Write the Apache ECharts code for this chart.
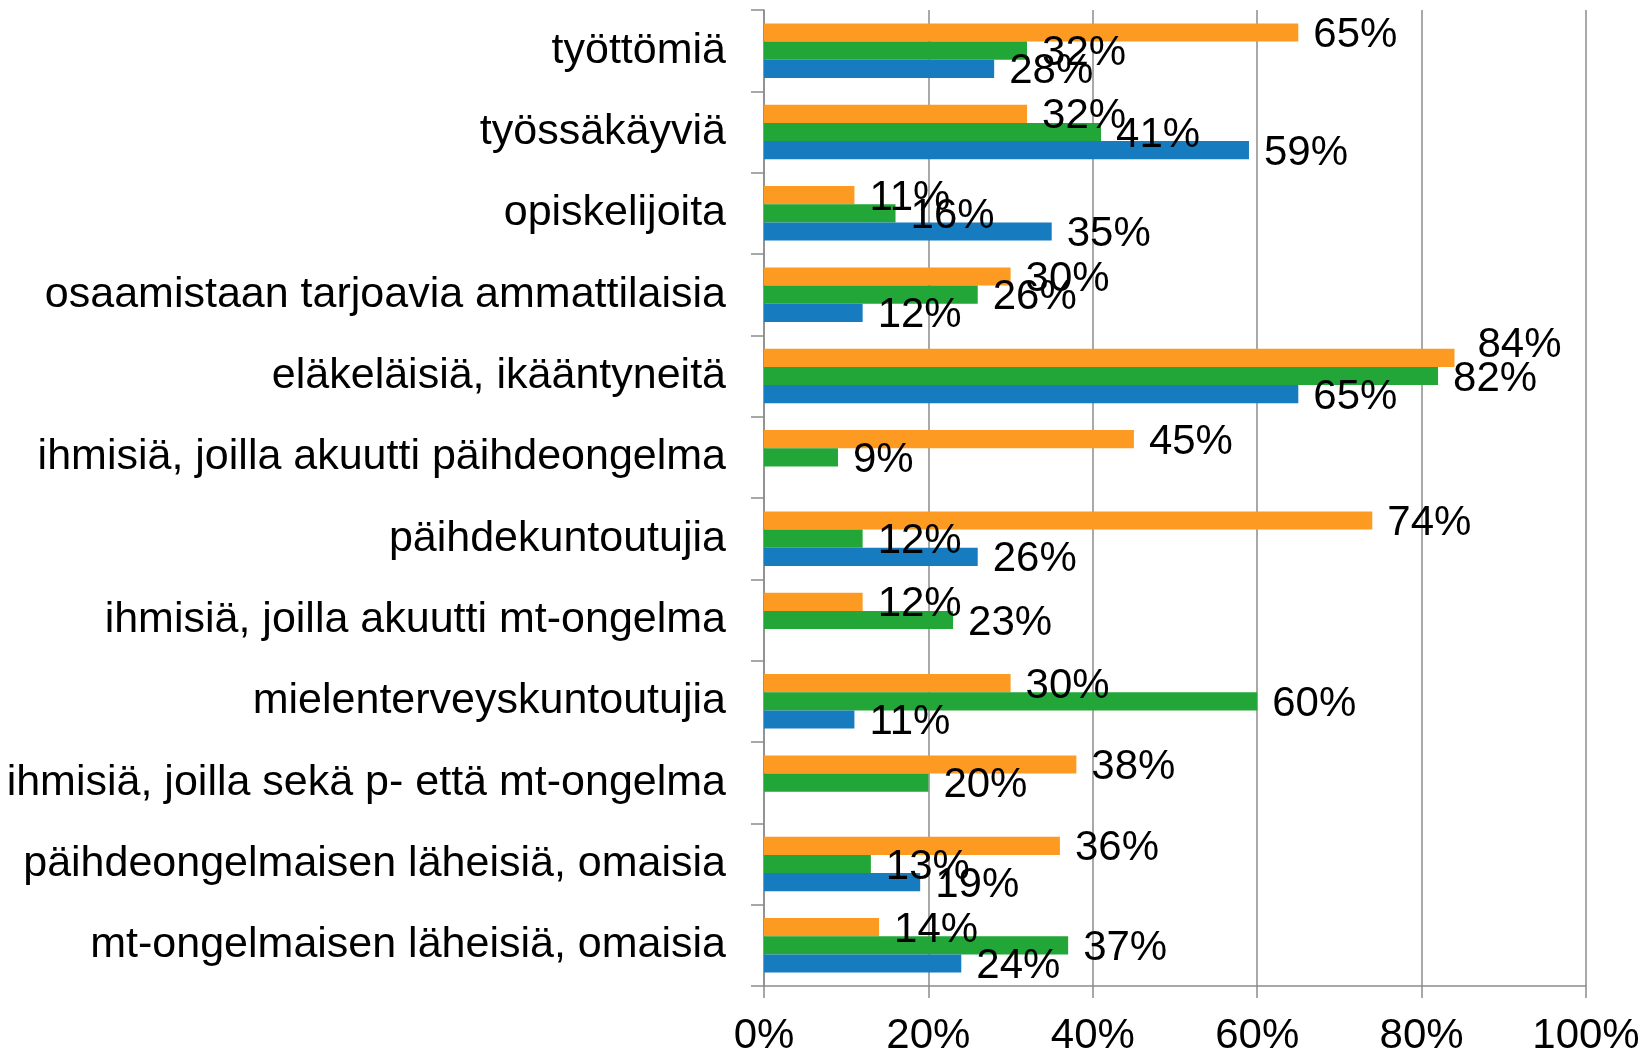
<!DOCTYPE html>
<html>
<head>
<meta charset="utf-8">
<script src="https://cdn.jsdelivr.net/npm/echarts@6/dist/echarts.min.js"></script>
<style>
  html, body { margin: 0; padding: 0; background: #fff; }
  #main { width: 1643px; height: 1054px; }
</style>
</head>
<body>
<div id="main"></div>
<script>
// kategoriat ylhäältä alas
var categories = [
  'työttömiä',
  'työssäkäyviä',
  'opiskelijoita',
  'osaamistaan tarjoavia ammattilaisia',
  'eläkeläisiä, ikääntyneitä',
  'ihmisiä, joilla akuutti päihdeongelma',
  'päihdekuntoutujia',
  'ihmisiä, joilla akuutti mt-ongelma',
  'mielenterveyskuntoutujia',
  'ihmisiä, joilla sekä p- että mt-ongelma',
  'päihdeongelmaisen läheisiä, omaisia',
  'mt-ongelmaisen läheisiä, omaisia'
];
var orangeValues = [65, 32, 11, 30, 84, 45, 74, 12, 30, 38, 36, 14];
var greenValues = [32, 41, 16, 26, 82, 9, 12, 23, 60, 20, 13, 37];
var blueValues = [28, 59, 35, 12, 65, null, 26, null, 11, null, 19, 24];
var xTicks = [0, 20, 40, 60, 80, 100];

var chart = echarts.init(document.getElementById('main'));

var gray = '#8c8c8c';
var font = 'Liberation Sans, Arial, sans-serif';
var fs = 42;

function makeSeries(name, values, color) {
  return {
    name: name,
    type: 'bar',
    barGap: '0%',
    barCategoryGap: '33%',
    itemStyle: { color: color },
    label: {
      show: true,
      position: 'right',
      distance: 15,
      offset: [0, 3],
      color: '#000',
      fontSize: fs,
      fontFamily: font,
      formatter: function (p) { return p.value + '%'; }
    },
    data: values.map(function (v, i) {
      if (v == null) return '-';
      // 84% on siirretty hieman ylös kuten alkuperäisessä
      if (name == 'orange' && i == 4) {
        return { value: v, label: { offset: [8, -12] } };
      }
      return v;
    })
  };
}

var option = {
  animation: false,
  grid: {
    left: 764,
    right: 57,
    top: 10,
    bottom: 68,
    containLabel: false,
    outerBoundsMode: 'none'
  },
  xAxis: {
    type: 'value',
    min: xTicks[0],
    max: xTicks[xTicks.length - 1],
    interval: 20,
    axisLine: { show: true, lineStyle: { color: gray, width: 1.5 } },
    axisTick: { show: true, length: 12, lineStyle: { color: gray, width: 1.5 } },
    splitLine: { show: true, lineStyle: { color: gray, width: 1.5 } },
    axisLabel: {
      margin: 29,
      color: '#000',
      fontSize: fs,
      fontFamily: font,
      formatter: '{value}%'
    }
  },
  yAxis: {
    type: 'category',
    inverse: true,
    data: categories,
    axisLine: { show: true, lineStyle: { color: gray, width: 1.5 } },
    axisTick: { show: true, length: 13, lineStyle: { color: gray, width: 1.5 } },
    axisLabel: {
      margin: 38,
      color: '#000',
      fontSize: 43,
      fontFamily: font
    }
  },
  series: [
    makeSeries('orange', orangeValues, '#fd9a21'),
    makeSeries('green', greenValues, '#21a637'),
    makeSeries('blue', blueValues, '#177bbf')
  ]
};

chart.setOption(option);
</script>
</body>
</html>
